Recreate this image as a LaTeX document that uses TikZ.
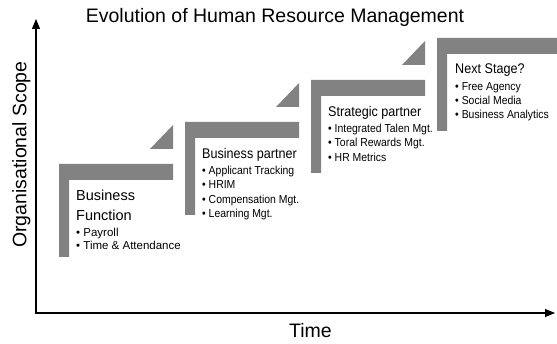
\documentclass[tikz,border=0pt]{standalone}
\usepackage{fontspec}
\setmainfont{Liberation Sans}
\newfontfamily\narrowfont[FakeStretch=0.9]{Liberation Sans}
\usetikzlibrary{arrows.meta}

\definecolor{stepgray}{RGB}{130,130,130}

\tikzset{
  biglabel/.style={font=\fontsize{19.5}{23}\selectfont,inner sep=0pt},
  stephead/.style={anchor=north west,inner sep=0pt,align=left,
    font=\narrowfont\fontsize{14}{17}\selectfont},
  stepitems/.style={anchor=north west,inner sep=0pt,align=left,
    font=\narrowfont\fontsize{11.6}{14.3}\selectfont}
}

\begin{document}
\begin{tikzpicture}[x=1pt,y=1pt]
\useasboundingbox (0,0) rectangle (557,343);

% Title and axis labels
\node[biglabel,anchor=north] (title) at (275,334.7) {Evolution of Human Resource Management};
\node[biglabel,anchor=north] (timelabel) at (310.5,20.3) {Time};
\node[biglabel,anchor=north,rotate=90] (scopelabel) at (12,188.5) {Organisational Scope};

% Axes
\coordinate (origin) at (36,30);
\coordinate (ytip) at (36,324);
\coordinate (xtip) at (555,30);
\draw[line width=1.1pt,{Triangle[length=10pt,width=8pt]}-{Triangle[length=10pt,width=8pt]}]
  (ytip) -- (origin) -- (xtip);

% Stair steps with their little ramps
\foreach \k in {0,1,2} {
  \fill[stepgray] (59+126*\k,179+42*\k) -- ++(114,0) -- ++(0,-16) -- ++(-104,0)
    -- ++(0,-77) -- ++(-10,0) -- cycle;
  \fill[stepgray] (150+126*\k,194+42*\k) -- ++(23,0) -- ++(0,24) -- cycle;
}
% last step runs off the edge
\fill[stepgray] (437,305) -- (557,305) -- (557,289) -- (447,289)
  -- (447,212) -- (437,212) -- cycle;

% Step 1
\node[anchor=north west,inner sep=0pt,align=left,font=\fontsize{14.5}{19.3}\selectfont]
  (funchead) at (76,153) {Business\\Function};
\node[anchor=north west,inner sep=0pt,align=left,font=\fontsize{11.5}{13}\selectfont]
  (funcitems) at (76,115) {\textbullet\ Payroll\\\textbullet\ Time \& Attendance};

% Step 2
\node[stephead] (bphead) at (202,195) {Business partner};
\node[stepitems] (bpitems) at (202,177) {\textbullet\ Applicant Tracking\\\textbullet\ HRIM\\
  \textbullet\ Compensation Mgt.\\\textbullet\ Learning Mgt.};

% Step 3
\node[stephead] (sphead) at (328,237) {Strategic partner};
\node[stepitems] (spitems) at (328,219) {\textbullet\ Integrated Talen Mgt.\\
  \textbullet\ Toral Rewards Mgt.\\\textbullet\ HR Metrics};

% Step 4
\node[stephead] (nexthead) at (455,279) {Next Stage?};
\node[stepitems] (nextitems) at (455,261) {\textbullet\ Free Agency\\\textbullet\ Social Media\\
  \textbullet\ Business Analytics};
\end{tikzpicture}
\end{document}
